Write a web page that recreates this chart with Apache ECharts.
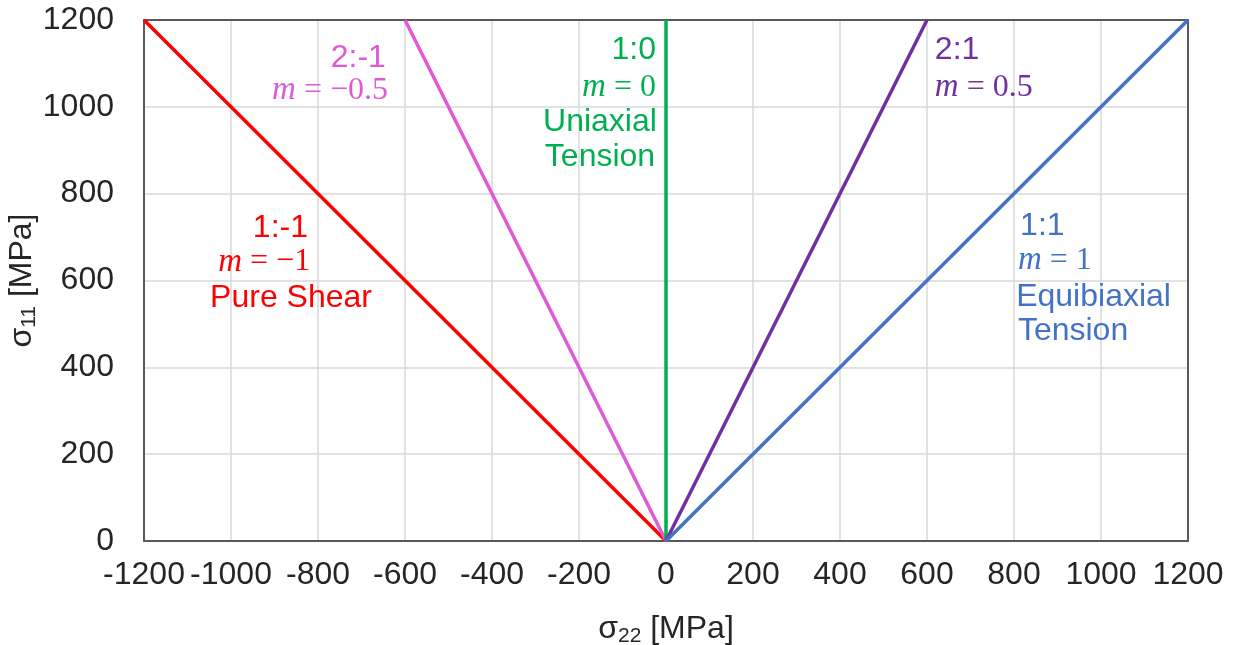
<!DOCTYPE html>
<html>
<head>
<meta charset="utf-8">
<script src="https://cdn.jsdelivr.net/npm/echarts@6/dist/echarts.min.js"></script>
<style>html,body{margin:0;padding:0;background:#fff}#c{width:1234px;height:645px}</style>
</head>
<body>
<div id="c"></div>
<script>
// Data: each loading path from origin to its end point [sigma22, sigma11]
const seriesNames = ['1:-1', '2:-1', '1:0', '2:1', '1:1'];
const path_1m1 = [[0, 0], [-1200, 1200]];
const path_2m1 = [[0, 0], [-600, 1200]];
const path_1_0 = [[0, 0], [0, 1200]];
const path_2_1 = [[0, 0], [600, 1200]];
const path_1_1 = [[0, 0], [1200, 1200]];
const xTicks = [-1200, -1000, -800, -600, -400, -200, 0, 200, 400, 600, 800, 1000, 1200];
const yTicks = [0, 200, 400, 600, 800, 1000, 1200];

// Annotation texts with anchor in data coordinates
const annotations = [
  { text: '2:-1', at: [-644, 1113], align: 'right', color: '#E05AD8', math: false },
  { text: '−0.5', at: [-639, 1037], align: 'right', color: '#E05AD8', math: true },
  { text: '1:0', at: [-23, 1131], align: 'right', color: '#00B050', math: false },
  { text: '0', at: [-23, 1044], align: 'right', color: '#00B050', math: true },
  { text: 'Uniaxial', at: [-21, 965], align: 'right', color: '#00B050', math: false },
  { text: 'Tension', at: [-25, 885], align: 'right', color: '#00B050', math: false },
  { text: '2:1', at: [618, 1131], align: 'left', color: '#7030A0', math: false },
  { text: '0.5', at: [618, 1044], align: 'left', color: '#7030A0', math: true },
  { text: '1:-1', at: [-823, 721], align: 'right', color: '#FF0000', math: false },
  { text: '−1', at: [-818, 643], align: 'right', color: '#FF0000', math: true },
  { text: 'Pure Shear', at: [-1048, 560], align: 'left', color: '#FF0000', math: false },
  { text: '1:1', at: [814, 726], align: 'left', color: '#4472C4', math: false },
  { text: '1', at: [809, 647], align: 'left', color: '#4472C4', math: true },
  { text: 'Equibiaxial', at: [805, 562], align: 'left', color: '#4472C4', math: false },
  { text: 'Tension', at: [809, 484], align: 'left', color: '#4472C4', math: false }
];

const colors = ['#FF0000', '#E05AD8', '#00B050', '#7030A0', '#4472C4'];
const paths = [path_1m1, path_2m1, path_1_0, path_2_1, path_1_1];

const chart = echarts.init(document.getElementById('c'), null, { renderer: 'canvas' });
const sans = 'Liberation Sans, Arial, sans-serif';
const serif = 'Liberation Serif, DejaVu Serif, serif';
const frame = { show: true, onZero: false, lineStyle: { color: '#595959', width: 2 } };
const hidden = { show: false };

const option = {
  animation: false,
  backgroundColor: '#fff',
  grid: { left: 144, right: 46, top: 20, bottom: 104, containLabel: false, outerBoundsMode: 'none' },
  xAxis: [{
    type: 'value', min: -1200, max: 1200, interval: 200,
    axisLine: frame, axisTick: { show: false },
    splitLine: { show: true, lineStyle: { color: '#D9D9D9', width: 1.5 } },
    axisLabel: { fontFamily: sans, fontSize: 32, color: '#262626', margin: 18,
      formatter: v => xTicks.includes(v) ? String(v) : '' },
    name: '{a|σ}{s|22}{a| [MPa]}', nameLocation: 'middle', nameGap: 71,
    nameMoveOverlap: false,
    nameTextStyle: { rich: {
      a: { fontFamily: sans, fontSize: 32, color: '#262626' },
      s: { fontFamily: sans, fontSize: 21, color: '#262626', padding: [14, 0, 0, 0] }
    } }
  }, {
    type: 'value', position: 'top', min: -1200, max: 1200, interval: 200,
    axisLine: frame, axisTick: hidden, axisLabel: hidden, splitLine: hidden
  }],
  yAxis: [{
    type: 'value', min: 0, max: 1200, interval: 200,
    axisLine: frame, axisTick: { show: false },
    splitLine: { show: true, lineStyle: { color: '#D9D9D9', width: 1.5 } },
    axisLabel: { fontFamily: sans, fontSize: 32, color: '#262626', margin: 30,
      formatter: v => yTicks.includes(v) ? String(v) : '' },
    name: '{a|σ}{s|11}{a| [MPa]}', nameLocation: 'middle', nameGap: 104,
    nameMoveOverlap: false,
    nameTextStyle: { rich: {
      a: { fontFamily: sans, fontSize: 32, color: '#262626' },
      s: { fontFamily: sans, fontSize: 21, color: '#262626', padding: [14, 0, 0, 0] }
    } }
  }, {
    type: 'value', position: 'right', min: 0, max: 1200, interval: 200,
    axisLine: frame, axisTick: hidden, axisLabel: hidden, splitLine: hidden
  }],
  series: paths.map((p, i) => ({
    name: seriesNames[i], type: 'line', data: p, showSymbol: false, symbol: 'none',
    xAxisIndex: 0, yAxisIndex: 0,
    lineStyle: { color: colors[i], width: 3.5 }, z: 3
  }))
};
chart.setOption(option);

function buildGraphics() {
  const g = annotations.map(a => {
    const px = chart.convertToPixel({ xAxisIndex: 0, yAxisIndex: 0 }, a.at);
    const style = a.math ? {
      text: '{m|m}{o| = ' + a.text + '}',
      rich: {
        m: { fontFamily: serif, fontStyle: 'italic', fontSize: 33, fill: a.color, color: a.color },
        o: { fontFamily: serif, fontSize: 32, fill: a.color, color: a.color }
      },
      fill: a.color
    } : {
      text: a.text, fontFamily: sans, fontSize: 32, fill: a.color
    };
    style.textAlign = a.align;
    style.textVerticalAlign = 'middle';
    return { type: 'text', x: px[0], y: px[1], style: style, z: 10 };
  });
  chart.setOption({ graphic: g });
}
buildGraphics();
</script>
</body>
</html>
